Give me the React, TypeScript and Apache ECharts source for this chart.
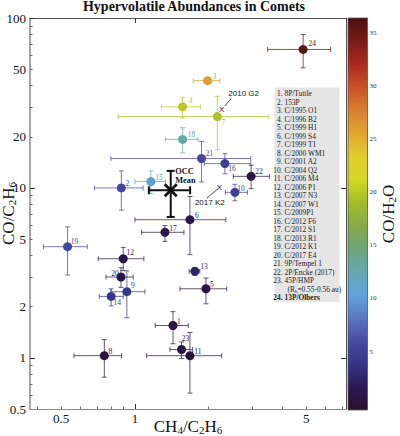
import React, { useEffect, useRef } from 'react';
import * as echarts from 'echarts';

// ---------------- data ----------------
const COMET_NAMES = [
  '8P/Tuttle', '153P', 'C/1995 O1', 'C/1996 B2', 'C/1999 H1', 'C/1999 S4', 'C/1999 T1',
  'C/2000 WM1', 'C/2001 A2', 'C/2004 Q2', 'C/2006 M4', 'C/2006 P1', 'C/2007 N3', 'C/2007 W1',
  'C/2009P1', 'C/2012 F6', 'C/2012 S1', 'C/2013 R1', 'C/2012 K1', 'C/2017 E4', '9P/Tempel 1',
  '2P/Encke (2017)', '45P/HMP', '13P/Olbers',
];
const CH4_C2H6 = [1.43, 0.88, 1.98, 1.565, 1.95, 1.677, 2.17, 0.75, 0.927, 2.56, 1.677, 0.896, 1.757, 0.80, 1.162, 2.33, 1.326, 1.565, 0.531, 0.877, 1.87, 2.98, 1.55, 4.86];
const CH4_LO = [1.21, 0.683, 1.73, 1.285, 1.527, 1.0, 0.855, 0.564, 0.798, 2.34, 1.116, 0.708, 1.665, 0.715, 1.0, 1.92, 1.065, 1.334, 0.423, 0.762, 0.798, 2.52, 1.39, 3.48];
const CH4_HI = [1.65, 1.08, 2.22, 1.855, 2.37, 2.35, 3.5, 0.882, 1.098, 2.88, 2.26, 1.088, 1.84, 0.896, 1.33, 2.97, 1.585, 1.81, 0.639, 0.984, 2.97, 3.54, 1.72, 6.29];
const CO_C2H6 = [1.55, 10.0, 42.8, 30.0, 2.55, 6.5, 26.3, 1.03, 2.45, 9.42, 1.03, 3.83, 3.23, 2.3, 10.9, 13.9, 5.48, 19.3, 4.51, 2.99, 14.9, 11.7, 1.12, 65.3];
const CO_LO = [1.21, 7.4, 41.5, 25.8, 2.08, 4.05, 16.8, 0.77, 1.72, 8.4, 0.62, 3.26, 3.06, 2.02, 9.25, 12.1, 4.85, 16.1, 3.07, 2.6, 10.85, 9.9, 0.99, 50.9];
const CO_HI = [1.87, 12.6, 44.2, 34.2, 2.95, 8.9, 34.6, 1.28, 3.25, 10.5, 1.41, 4.47, 3.39, 2.55, 12.6, 15.9, 6.0, 22.6, 5.9, 3.39, 18.8, 13.6, 1.24, 80];
const CO_H2O = [0.5, 5.5, 26, 20, 0.8, 1.2, 19.5, 0.4, 4, 5, 0.4, 0.9, 2.5, 4, 10, 5, 1, 13, 5.5, 0.8, 5.5, 0.8, 0.8, 35.5];

const OCC_MEAN = [1.40, 9.68];
const OCC_X_ERR = [1.14, 1.68];
const OCC_Y_ERR = [6.75, 12.6];

const ANNOT_NAMES = ['2010 G2', '2017 K2'];
const ANNOT_X = [2.26, 2.21];
const ANNOT_Y = [28.9, 10.1];

const X_LABELS = [0.5, 1, 5];
const X_MINOR = [0.4, 0.5, 0.6, 0.7, 0.8, 0.9, 2, 3, 4, 5, 6, 7];
const X_MAJOR = [1];
const Y_LABELS = [0.5, 1, 2, 5, 10, 20, 50, 100];
const Y_MINOR = [0.6, 0.7, 0.8, 0.9, 2, 3, 4, 5, 6, 7, 8, 9, 20, 30, 40, 50, 60, 70, 80, 90];
const Y_MAJOR = [1, 10, 100];
const CB_TICKS = [5, 10, 15, 20, 25, 30, 35];
const CB_MIN = -0.5;
const CB_MAX = 36.4;

// ---------------- styles ----------------
const SERIF = 'Liberation Serif';
const SANS = 'Liberation Sans';
const CMAP = ['#2a1030', '#2a1a55', '#36348a', '#4a4aa2', '#5a78c4', '#62a4dc', '#66a8b0', '#6ea478', '#86aa48', '#a2bc28', '#d4d824', '#e2cc2c', '#e2a430', '#d88030', '#c85226', '#aa2a20', '#7a1a18', '#4a1010'];
const LABEL_OFFSETS = [
  [6, -4], [6, -4], [7, -4], [8, -6], [6, -4], [7, -4], [6, 6], [6, -4], [6, -6], [6, -4], [8, -4], [7, -6],
  [9, -5], [6, 6], [8, -4], [7, 5], [8, -4], [9, -5], [7, -5], [-6, -4], [8, -5], [8, -5], [4, -11], [9, -6],
];
const ANNOT_STYLE = [
  { line: [3, -3.5, 9.5, -11], label: [22, -16] },
  { line: [-2, 2, -12.5, 11], label: [-9.5, 15.5] },
];

const subRich = (size: number) => ({
  s: { fontSize: size, fontFamily: SERIF, color: '#111', padding: [size * 0.8, 0, 0, 0], lineHeight: size },
});

export default function App() {
  const ref = useRef<HTMLDivElement>(null);
  useEffect(() => {
    if (!ref.current) return;
    const chart = echarts.init(ref.current, undefined, { renderer: 'svg' });

    const errData = CH4_C2H6.map((x, i) => [x, CO_C2H6[i], CO_H2O[i], CH4_LO[i], CH4_HI[i], CO_LO[i], CO_HI[i]]);
    const ptData = CH4_C2H6.map((x, i) => ({
      value: [x, CO_C2H6[i], CO_H2O[i], i + 1],
      label: { offset: LABEL_OFFSETS[i] },
    }));

    const legendChildren: any[] = [
      { type: 'rect', shape: { x: 274.5, y: 87.5, width: 65, height: 214.5 }, style: { fill: '#e5e5e5' } },
    ];
    COMET_NAMES.forEach((name, i) => {
      const line = i < 23 ? i : 24;
      const y = 93.5 + line * 8.5;
      const bold = i === 23 ? 'bold' : 'normal';
      legendChildren.push({
        type: 'text', x: 282.5, y,
        style: { text: `${i + 1}.`, align: 'right', verticalAlign: 'middle', fontSize: 7.4, fontFamily: SERIF, fontWeight: bold, fill: '#222' },
      });
      legendChildren.push({
        type: 'text', x: 284.5, y,
        style: { text: name, align: 'left', verticalAlign: 'middle', fontSize: 7.4, fontFamily: SERIF, fontWeight: bold, fill: '#222' },
      });
    });
    legendChildren.push({
      type: 'text', x: 287.5, y: 93.5 + 23 * 8.5,
      style: {
        text: '(R{h|h}=0.55-0.56 au)', align: 'left', verticalAlign: 'middle', fontSize: 7.4, fontFamily: SERIF, fill: '#222',
        rich: { h: { fontSize: 5, fontFamily: SERIF, fill: '#222', padding: [4, 0, 0, 0], lineHeight: 5 } },
      },
    });

    const cbStops = CMAP.map((c, i) => ({ offset: i / (CMAP.length - 1), color: c }));

    const logAxisBase = { type: 'log', logBase: 10, gridIndex: 0, splitLine: { show: false } };

    chart.setOption({
      animation: false,
      backgroundColor: '#fff',
      graphic: [
        {
          type: 'text', x: 194, y: 6,
          style: { text: 'Hypervolatile Abundances in Comets', align: 'center', verticalAlign: 'middle', fontSize: 14, fontWeight: 'bold', fontFamily: SERIF, fill: '#111' },
        },
        { type: 'group', children: legendChildren },
      ],
      grid: [
        { left: 30, top: 18, width: 316, height: 391, containLabel: false, outerBoundsMode: 'none' },
        { left: 348, top: 18, width: 19.5, height: 392, containLabel: false, outerBoundsMode: 'none' },
      ],
      visualMap: {
        type: 'continuous', show: false, min: CB_MIN, max: CB_MAX, dimension: 2, seriesIndex: [0, 1],
        inRange: { color: CMAP },
      },
      xAxis: [
        {
          ...logAxisBase, min: 0.373, max: 7.27, position: 'bottom',
          axisLine: { show: true, lineStyle: { color: '#8a8a8a', width: 1.2 } },
          axisTick: { show: true, inside: true, length: 2.5, customValues: X_MINOR, lineStyle: { color: '#666' } },
          axisLabel: { show: true, customValues: X_LABELS, fontSize: 13, fontFamily: SERIF, color: '#111', margin: 3, formatter: (v: number) => String(v) },
          name: 'CH{s|4}/C{s|2}H{s|6}', nameLocation: 'middle', nameGap: 8.5, nameMoveOverlap: false,
          nameTextStyle: { fontSize: 17, fontFamily: SERIF, color: '#111', verticalAlign: 'top', rich: subRich(11) },
        },
        {
          ...logAxisBase, min: 0.373, max: 7.27, position: 'bottom',
          axisLine: { show: false }, axisLabel: { show: false },
          axisTick: { show: true, inside: true, length: 5, customValues: X_MAJOR, lineStyle: { color: '#333' } },
        },
        {
          ...logAxisBase, min: 0.373, max: 7.27, position: 'top',
          axisLine: { show: true, lineStyle: { color: '#555', width: 1 } }, axisLabel: { show: false },
          axisTick: { show: true, inside: true, length: 5, customValues: X_MAJOR, lineStyle: { color: '#333' } },
        },
        { type: 'value', gridIndex: 1, min: 0, max: 1, show: false },
      ],
      yAxis: [
        {
          ...logAxisBase, min: 0.5, max: 100, position: 'left',
          axisLine: { show: true, lineStyle: { color: '#8a8a8a', width: 1.5 } },
          axisTick: { show: true, inside: true, length: 2.5, customValues: Y_MINOR, lineStyle: { color: '#666' } },
          axisLabel: { show: true, customValues: Y_LABELS, fontSize: 13, fontFamily: SERIF, color: '#111', margin: 4, formatter: (v: number) => String(v) },
          name: 'CO/C{s|2}H{s|6}', nameLocation: 'middle', nameGap: 13.5, nameRotate: 90, nameMoveOverlap: false,
          nameTextStyle: { fontSize: 17, fontFamily: SERIF, color: '#111', rich: subRich(11) },
        },
        {
          ...logAxisBase, min: 0.5, max: 100, position: 'left',
          axisLine: { show: false }, axisLabel: { show: false },
          axisTick: { show: true, inside: true, length: 5, customValues: Y_MAJOR, lineStyle: { color: '#333' } },
        },
        {
          ...logAxisBase, min: 0.5, max: 100, position: 'right',
          axisLine: { show: true, lineStyle: { color: '#555', width: 1 } }, axisLabel: { show: false },
          axisTick: { show: true, inside: true, length: 5, customValues: [1, 10], lineStyle: { color: '#333' } },
        },
        {
          type: 'value', gridIndex: 1, min: CB_MIN, max: CB_MAX, position: 'right',
          splitLine: { show: false },
          axisLine: { show: false },
          axisTick: { show: true, inside: false, length: 2, customValues: CB_TICKS, lineStyle: { color: '#444', width: 0.8 } },
          axisLabel: { show: true, customValues: CB_TICKS, fontSize: 7, fontFamily: SERIF, color: '#333', margin: 2 },
          name: 'CO/H{s|2}O', nameLocation: 'middle', nameGap: 12, nameRotate: 90, nameMoveOverlap: false,
          nameTextStyle: { fontSize: 17, fontFamily: SERIF, color: '#111', rich: subRich(11) },
        },
      ],
      series: [
        {
          type: 'custom', name: 'errors', xAxisIndex: 0, yAxisIndex: 0, data: errData,
          encode: { x: 0, y: 1 }, z: 2, silent: true,
          renderItem: (params: any, api: any) => {
            const x = api.value(0), y = api.value(1);
            const c = api.coord([x, y]);
            const l = api.coord([api.value(3), y]);
            const r = api.coord([api.value(4), y]);
            const b = api.coord([x, api.value(5)]);
            const t = api.coord([x, api.value(6)]);
            const color = api.visual('color');
            const st = { stroke: color, lineWidth: 1, opacity: 0.72 };
            const cap = 2.5;
            const ln = (x1: number, y1: number, x2: number, y2: number) => ({ type: 'line', shape: { x1, y1, x2, y2 }, style: st });
            return {
              type: 'group',
              children: [
                ln(l[0], c[1], r[0], c[1]), ln(l[0], c[1] - cap, l[0], c[1] + cap), ln(r[0], c[1] - cap, r[0], c[1] + cap),
                ln(c[0], t[1], c[0], b[1]), ln(c[0] - cap, t[1], c[0] + cap, t[1]), ln(c[0] - cap, b[1], c[0] + cap, b[1]),
              ],
            };
          },
        },
        {
          type: 'scatter', name: 'comets', xAxisIndex: 0, yAxisIndex: 0, data: ptData,
          symbol: 'circle', symbolSize: 9, z: 3, silent: true,
          itemStyle: { opacity: 1 },
          label: {
            show: true, position: 'inside', color: 'inherit', fontSize: 7.5, fontFamily: SERIF,
            formatter: (p: any) => String(p.value[3]),
          },
        },
        {
          type: 'custom', name: 'occ', xAxisIndex: 0, yAxisIndex: 0, silent: true, z: 4,
          data: [[OCC_MEAN[0], OCC_MEAN[1], OCC_X_ERR[0], OCC_X_ERR[1], OCC_Y_ERR[0], OCC_Y_ERR[1]]],
          encode: { x: 0, y: 1 },
          renderItem: (params: any, api: any) => {
            const x = api.value(0), y = api.value(1);
            const c = api.coord([x, y]);
            const l = api.coord([api.value(2), y]);
            const r = api.coord([api.value(3), y]);
            const b = api.coord([x, api.value(4)]);
            const t = api.coord([x, api.value(5)]);
            const st = { stroke: '#111', lineWidth: 2 };
            const cap = 4, xs = 6;
            const ln = (x1: number, y1: number, x2: number, y2: number, w = 2) => ({ type: 'line', shape: { x1, y1, x2, y2 }, style: { ...st, lineWidth: w } });
            return {
              type: 'group',
              children: [
                ln(l[0], c[1], r[0], c[1]), ln(l[0], c[1] - cap, l[0], c[1] + cap), ln(r[0], c[1] - cap, r[0], c[1] + cap),
                ln(c[0], t[1], c[0], b[1]), ln(c[0] - cap, t[1], c[0] + cap, t[1]), ln(c[0] - cap, b[1], c[0] + cap, b[1]),
                ln(c[0] - xs, c[1] - xs, c[0] + xs, c[1] + xs, 2.8), ln(c[0] - xs, c[1] + xs, c[0] + xs, c[1] - xs, 2.8),
                {
                  type: 'text', x: c[0] + 4.5, y: c[1] - 22.5,
                  style: { text: 'OCC\nMean', fontSize: 8.3, lineHeight: 8.3, fontWeight: 'bold', fontFamily: SERIF, fill: '#111', align: 'left', verticalAlign: 'top' },
                },
              ],
            };
          },
        },
        {
          type: 'custom', name: 'annot', xAxisIndex: 0, yAxisIndex: 0, silent: true, z: 4,
          data: ANNOT_X.map((x, i) => [x, ANNOT_Y[i]]),
          encode: { x: 0, y: 1 },
          renderItem: (params: any, api: any) => {
            const c = api.coord([api.value(0), api.value(1)]);
            const s = ANNOT_STYLE[params.dataIndex];
            return {
              type: 'group',
              children: [
                { type: 'text', x: c[0], y: c[1], style: { text: 'X', fontSize: 8, fontFamily: SANS, fill: '#111', align: 'center', verticalAlign: 'middle' } },
                { type: 'line', shape: { x1: c[0] + s.line[0], y1: c[1] + s.line[1], x2: c[0] + s.line[2], y2: c[1] + s.line[3] }, style: { stroke: '#222', lineWidth: 0.8 } },
                { type: 'text', x: c[0] + s.label[0], y: c[1] + s.label[1], style: { text: ANNOT_NAMES[params.dataIndex], fontSize: 8, fontFamily: SANS, fill: '#111', align: 'center', verticalAlign: 'middle' } },
              ],
            };
          },
        },
        {
          type: 'custom', name: 'colorbar', xAxisIndex: 3, yAxisIndex: 3, silent: true,
          data: [[0, CB_MIN, 1, CB_MAX]],
          encode: { x: [0, 2], y: [1, 3] },
          renderItem: (params: any, api: any) => {
            const p0 = api.coord([api.value(0), api.value(1)]);
            const p1 = api.coord([api.value(2), api.value(3)]);
            return {
              type: 'rect',
              shape: { x: p0[0], y: p1[1], width: p1[0] - p0[0], height: p0[1] - p1[1] },
              style: { fill: new echarts.graphic.LinearGradient(0, 1, 0, 0, cbStops), stroke: '#555', lineWidth: 0.8 },
            };
          },
        },
      ],
    });
    return () => chart.dispose();
  }, []);
  return <div ref={ref} style={{ position: 'fixed', left: 0, top: 0, width: 400, height: 436 }} />;
}
